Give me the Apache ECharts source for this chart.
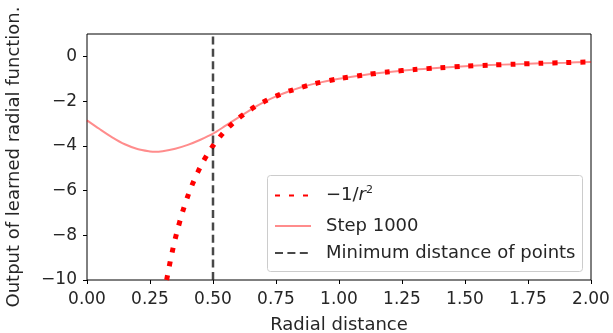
<!DOCTYPE html>
<html>
<head>
<meta charset="utf-8">
<script src="https://cdn.jsdelivr.net/npm/echarts@6/dist/echarts.min.js"></script>
<style>html,body{margin:0;padding:0;background:#fff;}#c{width:613px;height:333px;}</style>
</head>
<body>
<div id="c"></div>
<script>
// -1/r^2 reference curve
var invR = [0.316,0.33,0.34,0.35,0.36,0.38,0.40,0.42,0.44,0.46,0.48,0.50,0.53,0.56,0.60,0.65,0.70,0.75,0.80,0.90,1.00,1.10,1.20,1.30,1.40,1.50,1.60,1.70,1.80,1.90,2.00];
var invY = [-10.0,-9.18,-8.65,-8.16,-7.72,-6.93,-6.25,-5.67,-5.17,-4.73,-4.34,-4.00,-3.56,-3.19,-2.78,-2.37,-2.04,-1.78,-1.56,-1.23,-1.00,-0.83,-0.69,-0.59,-0.51,-0.44,-0.39,-0.35,-0.31,-0.28,-0.25];
// Step 1000 learned function
var stepR = [0.00,0.05,0.10,0.15,0.20,0.25,0.27,0.30,0.35,0.40,0.45,0.50,0.55,0.60,0.65,0.70,0.75,0.80,0.85,0.90,1.00,1.10,1.20,1.30,1.40,1.50,1.60,1.70,1.80,1.90,2.00];
var stepY = [-2.86,-3.25,-3.62,-3.93,-4.14,-4.25,-4.27,-4.24,-4.13,-3.96,-3.73,-3.46,-3.10,-2.74,-2.38,-2.06,-1.79,-1.57,-1.38,-1.23,-1.00,-0.83,-0.70,-0.59,-0.51,-0.44,-0.39,-0.35,-0.31,-0.28,-0.25];
// vertical marker
var minDist = 0.5;
var yMin = -10, yMax = 1;
var xTicks = [0,0.25,0.5,0.75,1,1.25,1.5,1.75,2];
var yTicks = [-10,-8,-6,-4,-2,0];
var legendNames = ['inv','Step 1000','Minimum distance of points'];

function zip(a,b){return a.map(function(v,i){return [v,b[i]];});}
var F = 'DejaVu Sans';
var FS = 17, FN = 18;
var TC = '#262626';
var legendTops = [185, 217, 244];
var legends = legendNames.map(function(n,i){
  return {
    orient:'vertical',left:274,top:legendTops[i],padding:0,
    itemWidth:36,itemHeight:18,z:10,
    itemStyle:{opacity:0},
    textStyle:{fontFamily:F,fontSize:FN,color:TC,padding:[0,0,0,10],
      rich:{a:{fontFamily:F,fontSize:FN,color:TC},i:{fontFamily:F,fontSize:FN,fontStyle:'italic',color:TC},s:{fontFamily:F,fontSize:11,color:TC,verticalAlign:'top',padding:[0,0,10,0]}}},
    formatter:function(n){ if(n==='inv') return '{a|\u22121/}{i|r}{s|2}'; return n; },
    data:[n]
  };
});
var chart = echarts.init(document.getElementById('c'));
chart.setOption({
  animation:false,
  grid:{left:87,right:22,top:34,bottom:53,show:true,borderColor:'#000',borderWidth:1,backgroundColor:'transparent',outerBoundsMode:'none',containLabel:false},
  graphic:[{type:'rect',left:267,top:175,z:9,shape:{width:315,height:96,r:3},
    style:{fill:'rgba(255,255,255,0.8)',stroke:'#cccccc',lineWidth:1}}],
  xAxis:{type:'value',min:0,max:2,
    name:'Radial distance',nameLocation:'middle',nameGap:36,
    nameTextStyle:{fontFamily:F,fontSize:FN,color:TC},
    axisLine:{show:false,onZero:false},
    axisTick:{show:true,length:4,lineStyle:{color:'#000'},customValues:xTicks},
    splitLine:{show:false},
    axisLabel:{fontFamily:F,fontSize:FS,color:TC,margin:11,customValues:xTicks,formatter:function(v){return v.toFixed(2);}}},
  yAxis:{type:'value',min:yMin,max:yMax,
    name:'Output of learned radial function.',nameLocation:'middle',nameGap:64,nameRotate:90,
    nameTextStyle:{fontFamily:F,fontSize:FN,color:TC},
    axisLine:{show:false,onZero:false},
    axisTick:{show:true,length:4,lineStyle:{color:'#000'},customValues:yTicks},
    splitLine:{show:false},
    axisLabel:{fontFamily:F,fontSize:FS,color:TC,margin:10,customValues:yTicks,
      formatter:function(v){return String(v).replace('-','\u2212');}}},
  legend:legends,
  series:[
    {name:'inv',type:'line',data:zip(invR,invY),symbol:'none',smooth:0.3,clip:true,
      lineStyle:{color:'#ff0000',width:5,type:[5,9],cap:'butt'},itemStyle:{color:'#ff0000'},z:3},
    {name:'Step 1000',type:'line',data:zip(stepR,stepY),symbol:'none',smooth:0.3,
      lineStyle:{color:'rgba(255,0,0,0.45)',width:2},itemStyle:{color:'rgba(255,0,0,0.45)'},z:2},
    {name:'Minimum distance of points',type:'line',data:[[minDist,yMin],[minDist,yMax]],symbol:'none',
      lineStyle:{color:'rgba(40,40,40,0.85)',width:2.5,type:[8,4.4]},itemStyle:{color:'rgba(40,40,40,0.85)'},z:4}
  ]
});
</script>
</body>
</html>
